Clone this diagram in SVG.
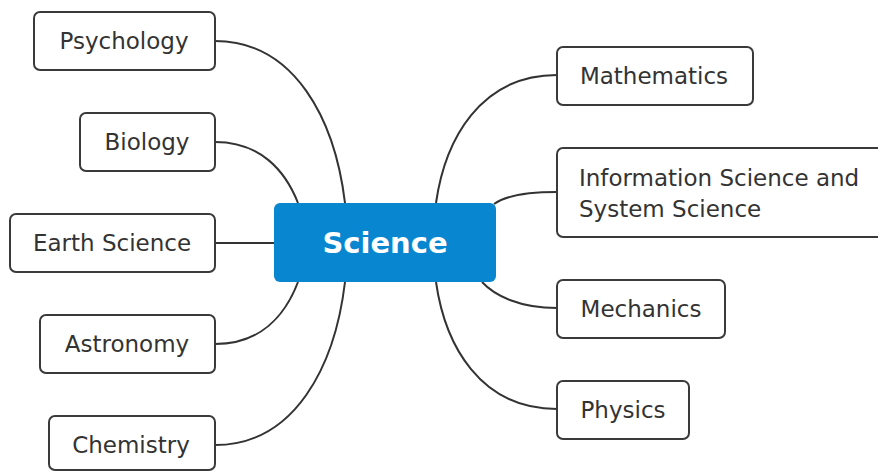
<svg xmlns="http://www.w3.org/2000/svg" width="878" height="471" viewBox="0 0 878 471">
<style>
.box{fill:#fff;stroke:#3a3a3a;stroke-width:2}
.lbl{font-family:"DejaVu Sans","Liberation Sans",sans-serif;font-size:23px;fill:#333;dominant-baseline:central}
.edge{fill:none;stroke:#333;stroke-width:2}
</style>
<rect width="878" height="471" fill="#fff"/>
<g id="connectors">
<path class="edge" d="M215,41 C295,41 335,120 345,203"/>
<path class="edge" d="M215,142 C260,142 285,170 298,203"/>
<path class="edge" d="M215,243 L274,243"/>
<path class="edge" d="M215,344 C260,344 285,316 298,282"/>
<path class="edge" d="M215,445 C295,445 335,366 345,282"/>
<path class="edge" d="M557,75 C480,75 445,140 436,203"/>
<path class="edge" d="M557,192 C525,192 505,196 494,204"/>
<path class="edge" d="M557,308 C520,308 495,296 482,282"/>
<path class="edge" d="M557,409 C480,409 445,345 436,282"/>
</g>
<g id="science">
<rect x="274" y="203" width="222" height="79" rx="6" fill="#0887D0"/>
<text x="385" y="243" text-anchor="middle" style="font-family:'DejaVu Sans','Liberation Sans',sans-serif;font-size:29px;font-weight:bold;fill:#fff;dominant-baseline:central">Science</text>
</g>
<g id="psychology">
<rect class="box" x="34" y="12" width="181" height="58" rx="6"/>
<text class="lbl" x="124" y="41" text-anchor="middle">Psychology</text>
</g>
<g id="biology">
<rect class="box" x="80" y="113" width="135" height="58" rx="6"/>
<text class="lbl" x="147" y="142" text-anchor="middle">Biology</text>
</g>
<g id="earth-science">
<rect class="box" x="10" y="214" width="205" height="58" rx="6"/>
<text class="lbl" x="112" y="243" text-anchor="middle">Earth Science</text>
</g>
<g id="astronomy">
<rect class="box" x="40" y="315" width="175" height="58" rx="6"/>
<text class="lbl" x="127" y="344" text-anchor="middle">Astronomy</text>
</g>
<g id="chemistry">
<rect class="box" x="49" y="416" width="166" height="54" rx="6"/>
<text class="lbl" x="131" y="445" text-anchor="middle">Chemistry</text>
</g>
<g id="mathematics">
<rect class="box" x="557" y="47" width="196" height="58" rx="6"/>
<text class="lbl" x="654" y="76" text-anchor="middle">Mathematics</text>
</g>
<g id="information-science">
<rect class="box" x="557" y="148" width="330" height="89" rx="6"/>
<text class="lbl" x="579" y="178">Information Science and</text>
<text class="lbl" x="579" y="209">System Science</text>
</g>
<g id="mechanics">
<rect class="box" x="557" y="280" width="168" height="58" rx="6"/>
<text class="lbl" x="641" y="309" text-anchor="middle">Mechanics</text>
</g>
<g id="physics">
<rect class="box" x="557" y="381" width="132" height="58" rx="6"/>
<text class="lbl" x="623" y="410" text-anchor="middle">Physics</text>
</g>
</svg>
